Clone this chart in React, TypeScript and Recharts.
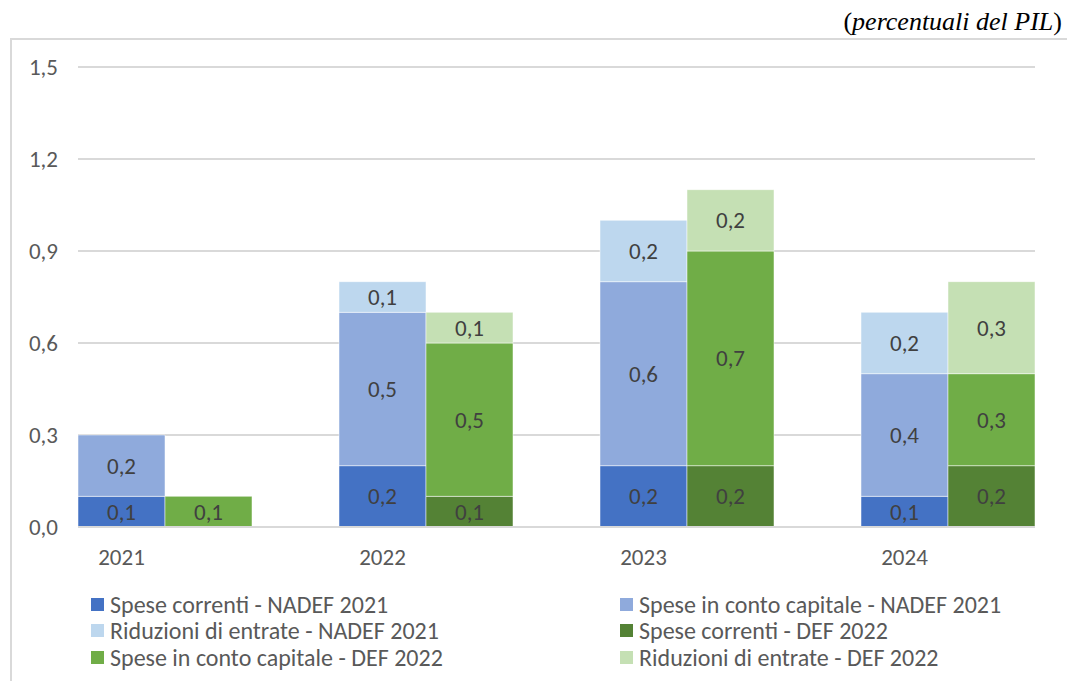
import { BarChart, Bar, XAxis, YAxis, CartesianGrid, LabelList } from "recharts";

const years = ["2021", "2022", "2023", "2024"];
const correntiNadef = [0.1, 0.2, 0.2, 0.1];
const capitaleNadef = [0.2, 0.5, 0.6, 0.4];
const riduzioniNadef = [0, 0.1, 0.2, 0.2];
const correntiDef = [0, 0.1, 0.2, 0.2];
const capitaleDef = [0.1, 0.5, 0.7, 0.3];
const riduzioniDef = [0, 0.1, 0.2, 0.3];
const yTicks = [0, 0.3, 0.6, 0.9, 1.2, 1.5];

const SERIES = [
  { key: "cn", name: "Spese correnti - NADEF 2021", color: "#4472C4" },
  { key: "kn", name: "Spese in conto capitale - NADEF 2021", color: "#8FAADC" },
  { key: "rn", name: "Riduzioni di entrate - NADEF 2021", color: "#BDD7EE" },
  { key: "cd", name: "Spese correnti - DEF 2022", color: "#548235" },
  { key: "kd", name: "Spese in conto capitale - DEF 2022", color: "#70AD47" },
  { key: "rd", name: "Riduzioni di entrate - DEF 2022", color: "#C5E0B4" },
];

const FONT = "Carlito, Calibri, 'Liberation Sans Narrow', 'Open Sans', sans-serif";

// 11 slots: NADEF bar, DEF bar, empty gap, ... (Excel-style layout, no gap between bars)
const nz = (v: number) => (v > 0 ? v : null);
const data: Record<string, string | number | null>[] = [];
years.forEach((y, i) => {
  data.push({ slot: y, cn: nz(correntiNadef[i]), kn: nz(capitaleNadef[i]), rn: nz(riduzioniNadef[i]) });
  data.push({ slot: y + "-def", cd: nz(correntiDef[i]), kd: nz(capitaleDef[i]), rd: nz(riduzioniDef[i]) });
  if (i < years.length - 1) data.push({ slot: y + "-gap" });
});

const fmt = (v: number) => v.toFixed(1).replace(".", ",");

export default function App() {
  return (
    <div style={{ position: "absolute", left: 0, top: 0, width: 1067, height: 681, background: "#fff", overflow: "hidden" }}>
      <div
        style={{
          position: "absolute",
          right: 5,
          top: 7,
          fontFamily: "'Liberation Serif', 'Times New Roman', serif",
          fontSize: 26,
          lineHeight: "30px",
          color: "#000",
        }}
      >
        (<i>percentuali del PIL</i>)
      </div>
      <div
        style={{
          position: "absolute",
          left: 10,
          top: 38,
          width: 1070,
          height: 660,
          border: "2px solid #d9d9d9",
          boxSizing: "border-box",
        }}
      />
      <div style={{ position: "absolute", left: 0, top: 0 }}>
        <BarChart
          width={1067}
          height={580}
          data={data}
          barCategoryGap={0}
          margin={{ top: 67, right: 32, left: 0, bottom: 0 }}
        >
          <CartesianGrid vertical={false} stroke="#d9d9d9" strokeWidth={2} />
          <XAxis
            dataKey="slot"
            interval={0}
            height={53}
            tickLine={false}
            axisLine={{ stroke: "#d9d9d9", strokeWidth: 2 }}
            tickMargin={16}
            tickFormatter={(v: string) => (v.includes("-") ? "" : v)}
            tick={{ fill: "#595959", fontSize: 23, fontFamily: FONT }}
          />
          <YAxis
            width={78}
            domain={[0, 1.5]}
            ticks={yTicks}
            tickLine={false}
            axisLine={false}
            tickMargin={14}
            tickFormatter={fmt}
            tick={{ fill: "#595959", fontSize: 23, fontFamily: FONT }}
          />
          {SERIES.map((s) => (
            <Bar
              key={s.key}
              dataKey={s.key}
              name={s.name}
              stackId="a"
              fill={s.color}
              stroke="#ffffff"
              strokeWidth={0.5}
              isAnimationActive={false}
            >
              <LabelList
                dataKey={s.key}
                position="center"
                formatter={(v: any) => (v == null ? "" : fmt(Number(v)))}
                fill="#404040"
                fontSize={23}
                fontFamily={FONT}
              />
            </Bar>
          ))}
        </BarChart>
      </div>
      <div
        style={{
          position: "absolute",
          left: 91,
          top: 591,
          display: "grid",
          gridTemplateColumns: "529px 420px",
          rowGap: 0,
          fontFamily: FONT,
          fontSize: 24,
          color: "#595959",
        }}
      >
        {SERIES.map((s) => (
          <div key={s.key} style={{ display: "flex", alignItems: "center", height: 26.5, whiteSpace: "nowrap" }}>
            <span style={{ display: "inline-block", width: 13, height: 13, background: s.color, marginRight: 6 }} />
            {s.name}
          </div>
        ))}
      </div>
    </div>
  );
}
